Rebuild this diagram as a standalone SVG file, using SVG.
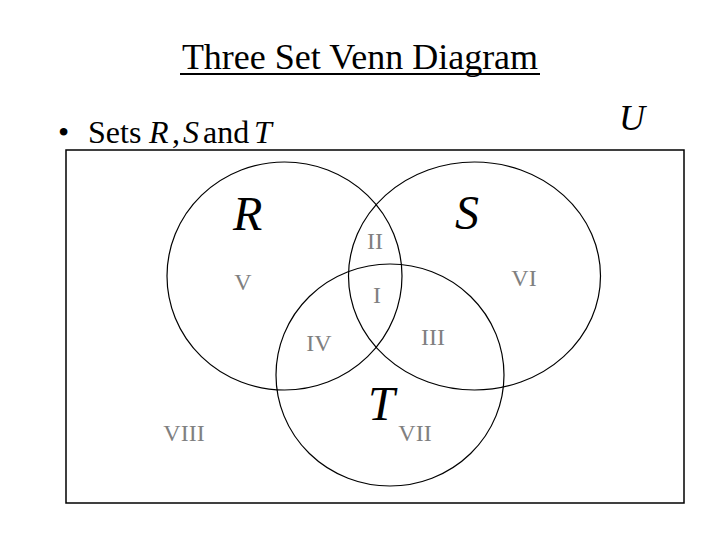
<svg xmlns="http://www.w3.org/2000/svg" width="720" height="540" viewBox="0 0 720 540">
<style>
.ttl{font-family:"Liberation Serif","Times New Roman",serif;font-size:36px;fill:#000}
.bul{font-family:"Liberation Serif","Times New Roman",serif;font-size:32px;fill:#000}
.it{font-style:italic}
.set{font-family:"Liberation Serif","Times New Roman",serif;font-size:48px;font-style:italic;fill:#000}
.reg{font-family:"Liberation Serif","Times New Roman",serif;font-size:24px;fill:#808080;text-anchor:middle}
.c{fill:none;stroke:#000;stroke-width:1.2}
</style>
<rect width="720" height="540" fill="#fff"/>
<g id="title">
<text class="ttl" x="360" y="69" text-anchor="middle">Three Set Venn Diagram</text>
<line x1="180" y1="74" x2="540" y2="74" stroke="#000" stroke-width="2"/>
</g>
<g id="bullet">
<text class="bul" x="58" y="143">•</text>
<text class="bul" x="88" y="143">Sets</text>
<text class="bul it" x="149" y="143">R</text>
<text class="bul" x="172" y="143">,</text>
<text class="bul it" x="183" y="143">S</text>
<text class="bul" x="203" y="143">and</text>
<text class="bul it" x="254" y="143">T</text>
</g>
<g id="U"><text class="ttl it" x="619" y="130">U</text></g>
<g id="universe"><rect x="66" y="150" width="618" height="353" fill="none" stroke="#000" stroke-width="1.5"/></g>
<g id="setR"><ellipse class="c" cx="284.5" cy="276" rx="117.5" ry="114"/><text class="set" x="233" y="230">R</text></g>
<g id="setS"><ellipse class="c" cx="474.5" cy="276" rx="126" ry="114"/><text class="set" x="455" y="229">S</text></g>
<g id="setT"><ellipse class="c" cx="390" cy="375" rx="114" ry="111"/><text class="set" x="368" y="420">T</text></g>
<g id="regions">
<text class="reg" x="375" y="249">II</text>
<text class="reg" x="243" y="290">V</text>
<text class="reg" x="377" y="303">I</text>
<text class="reg" x="524" y="286">VI</text>
<text class="reg" x="433" y="345">III</text>
<text class="reg" x="319" y="351">IV</text>
<text class="reg" x="184" y="441">VIII</text>
<text class="reg" x="415" y="441">VII</text>
</g>
</svg>
